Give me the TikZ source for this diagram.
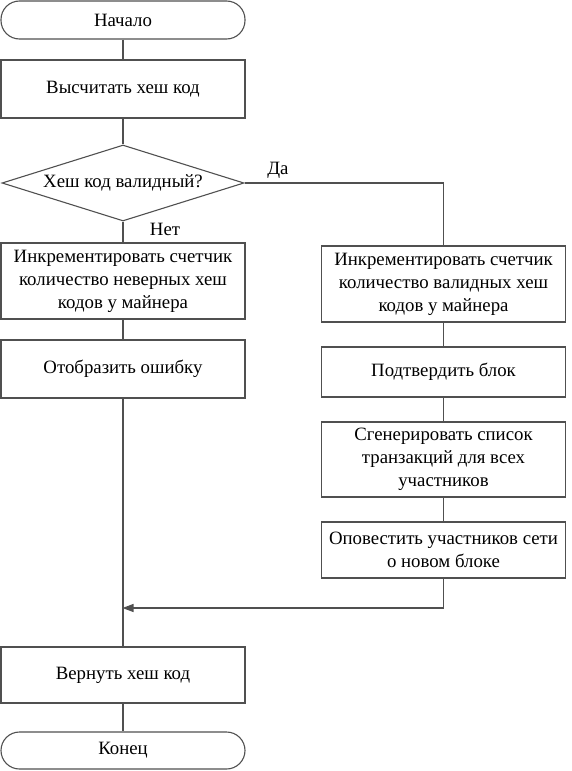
\documentclass[tikz,border=0pt]{standalone}
\usepackage{fontspec}
\setmainfont{Liberation Serif}
\usetikzlibrary{shapes.geometric,arrows.meta}
\definecolor{ln}{HTML}{505050}
\begin{document}
\begin{tikzpicture}[x=1pt,y=-1pt,
  every node/.style={font=\fontsize{18.8}{23}\selectfont, text=black},
  lbox/.style={draw=ln, line width=1.1pt, rectangle, minimum width=244pt, inner sep=0pt, align=center},
  term/.style={lbox, rounded corners=18.5pt},
  dia/.style={draw=ln, line width=1.1pt, diamond, aspect=3.2, minimum width=242pt, minimum height=76pt, inner sep=0pt},
  conn/.style={draw=ln, line width=1.1pt},
  lbl/.style={inner sep=0pt}
]
\useasboundingbox (0,0) rectangle (571,771);
\node[term, minimum height=38pt] (start) at (123,20) {Начало};
\node[lbox, minimum height=58pt] (calc) at (123,89) {Высчитать хеш код};
\node[dia] (q) at (123,183) {Хеш код валидный?};
\node[lbox, minimum height=76pt] (bad) at (123,281) {Инкрементировать счетчик\\количество неверных хеш\\кодов у майнера};
\node[lbox, minimum height=58pt] (err) at (123,369) {Отобразить ошибку};
\node[lbox, minimum height=56pt] (ret) at (123,675) {Вернуть хеш код};
\node[term, minimum height=37pt] (fin) at (123,750.5) {Конец};

\node[lbox, minimum height=76pt] (good) at (443.5,284) {Инкрементировать счетчик\\количество валидных хеш\\кодов у майнера};
\node[lbox, minimum height=50pt] (conf) at (443.5,372) {Подтвердить блок};
\node[lbox, minimum height=75pt] (gen) at (443.5,459.5) {Сгенерировать список\\транзакций для всех\\участников};
\node[lbox, minimum height=56pt] (notify) at (443.5,550) {Оповестить участников сети\\о новом блоке};

\coordinate (m) at (123,608);

\draw[conn] (start) -- (calc);
\draw[conn] (calc) -- (q);
\draw[conn] (q.south) -- (bad.north);
\draw[conn] (bad) -- (err);
\draw[conn] (err.south) -- (ret.north);
\draw[conn] (ret) -- (fin);
\draw[conn] (q.east) -| (good.north);
\draw[conn] (good) -- (conf);
\draw[conn] (conf) -- (gen);
\draw[conn] (gen) -- (notify);
\draw[conn, -{Triangle[length=11pt,width=8pt]}, shorten >=-0.5pt] (notify.south) |- (m);

\node[lbl] (yes) at (278,170) {Да};
\node[lbl] (no) at (165,229) {Нет};
\end{tikzpicture}
\end{document}
